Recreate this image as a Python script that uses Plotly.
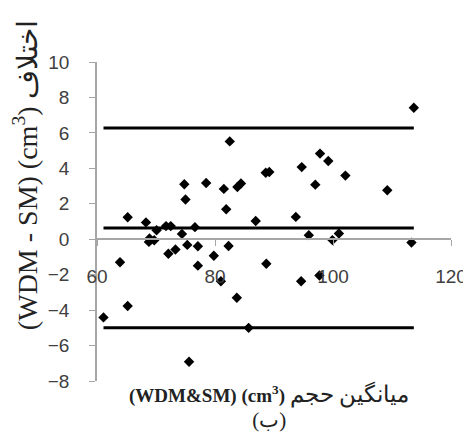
import plotly.graph_objects as go

# mean of the two methods (cm3) and their difference WDM - SM (cm3)
mean_vol = [61.1, 63.9, 65.2, 65.2, 68.3, 68.8, 68.9, 69.7, 70.1, 71.7,
            72.5, 72.1, 73.3, 74.4, 74.8, 75.0, 75.3, 75.6, 76.6, 77.1,
            77.1, 78.5, 79.8, 81.0, 81.5, 81.9, 82.3, 82.5, 83.7, 83.8,
            84.4, 85.7, 86.9, 88.6, 89.2, 88.7, 93.7, 94.6, 94.7, 95.9,
            97.0, 97.7, 97.8, 99.2, 99.9, 101.0, 102.1, 109.2, 113.3, 113.7]
diff_vol = [-4.41, -1.30, -3.77, 1.24, 0.95, -0.15, 0.04, -0.06, 0.51, 0.74,
            0.74, -0.82, -0.58, 0.30, 3.10, 2.24, -0.32, -6.91, 0.68, -0.40,
            -1.49, 3.17, -0.93, -2.37, 2.84, 1.69, -0.38, 5.52, -3.30, 2.95,
            3.14, -5.00, 1.03, 3.75, 3.79, -1.38, 1.26, -2.37, 4.07, 0.23,
            3.08, -2.05, 4.83, 4.41, -0.05, 0.32, 3.59, 2.76, -0.19, 7.42]

# bias and limits of agreement
ref_lines = [6.27, 0.64, -5.00]

y_ticks = [-8, -6, -4, -2, 0, 2, 4, 6, 8, 10]
x_ticks = [60, 80, 100, 120]

fig = go.Figure()

x_span = [min(mean_vol), max(mean_vol)]
for level in ref_lines:
    fig.add_trace(go.Scatter(x=x_span, y=[level, level], mode='lines',
                             line=dict(color='black', width=3),
                             showlegend=False, hoverinfo='skip'))

fig.add_trace(go.Scatter(x=mean_vol, y=diff_vol, mode='markers',
                         marker=dict(symbol='diamond', size=8, color='black'),
                         showlegend=False))

tick_font = dict(family='Liberation Sans', size=19, color='#404040')
serif = 'Liberation Serif, Times New Roman, serif'

fig.update_layout(
    width=471, height=443,
    margin=dict(l=89, r=26, t=54, b=70),  # page body adds 8px offset
    plot_bgcolor='white', paper_bgcolor='white',
    xaxis=dict(range=[60, 120], tickvals=x_ticks, showgrid=False, zeroline=False,
               showline=True, linecolor='#a6a6a6', linewidth=1.5,
               ticks='outside', ticklen=6, tickcolor='#a6a6a6',
               anchor='free', position=8 / 18, ticklabelstandoff=14,
               tickfont=tick_font),
    yaxis=dict(range=[-8, 10], tickvals=y_ticks, showgrid=False, zeroline=False,
               showline=True, linecolor='#a6a6a6', linewidth=1.5,
               ticks='outside', ticklen=6, tickcolor='#a6a6a6',
               ticklabelstandoff=16, tickfont=tick_font),
    annotations=[
        dict(text='<span style="font-family:Liberation Serif">(WDM - SM) (cm<sup>3</sup>)</span> اختلاف',
             textangle=-90,
             xref='paper', yref='paper', x=-0.2, y=0.646,
             xanchor='center', yanchor='middle', showarrow=False,
             font=dict(family=serif, size=28, color='#222222')),
        dict(text='<b>(WDM&amp;SM) (cm<sup>3</sup>)</b> '
                  '<span style="font-size:23px">میانگین حجم</span><br>'
                  '<span style="font-size:21px">(ب)</span>',
             xref='paper', yref='paper', x=0.487, y=-0.08,
             xanchor='center', yanchor='middle', showarrow=False, align='center',
             font=dict(family=serif, size=19, color='#222222')),
    ],
)

fig.write_html("out.html")
